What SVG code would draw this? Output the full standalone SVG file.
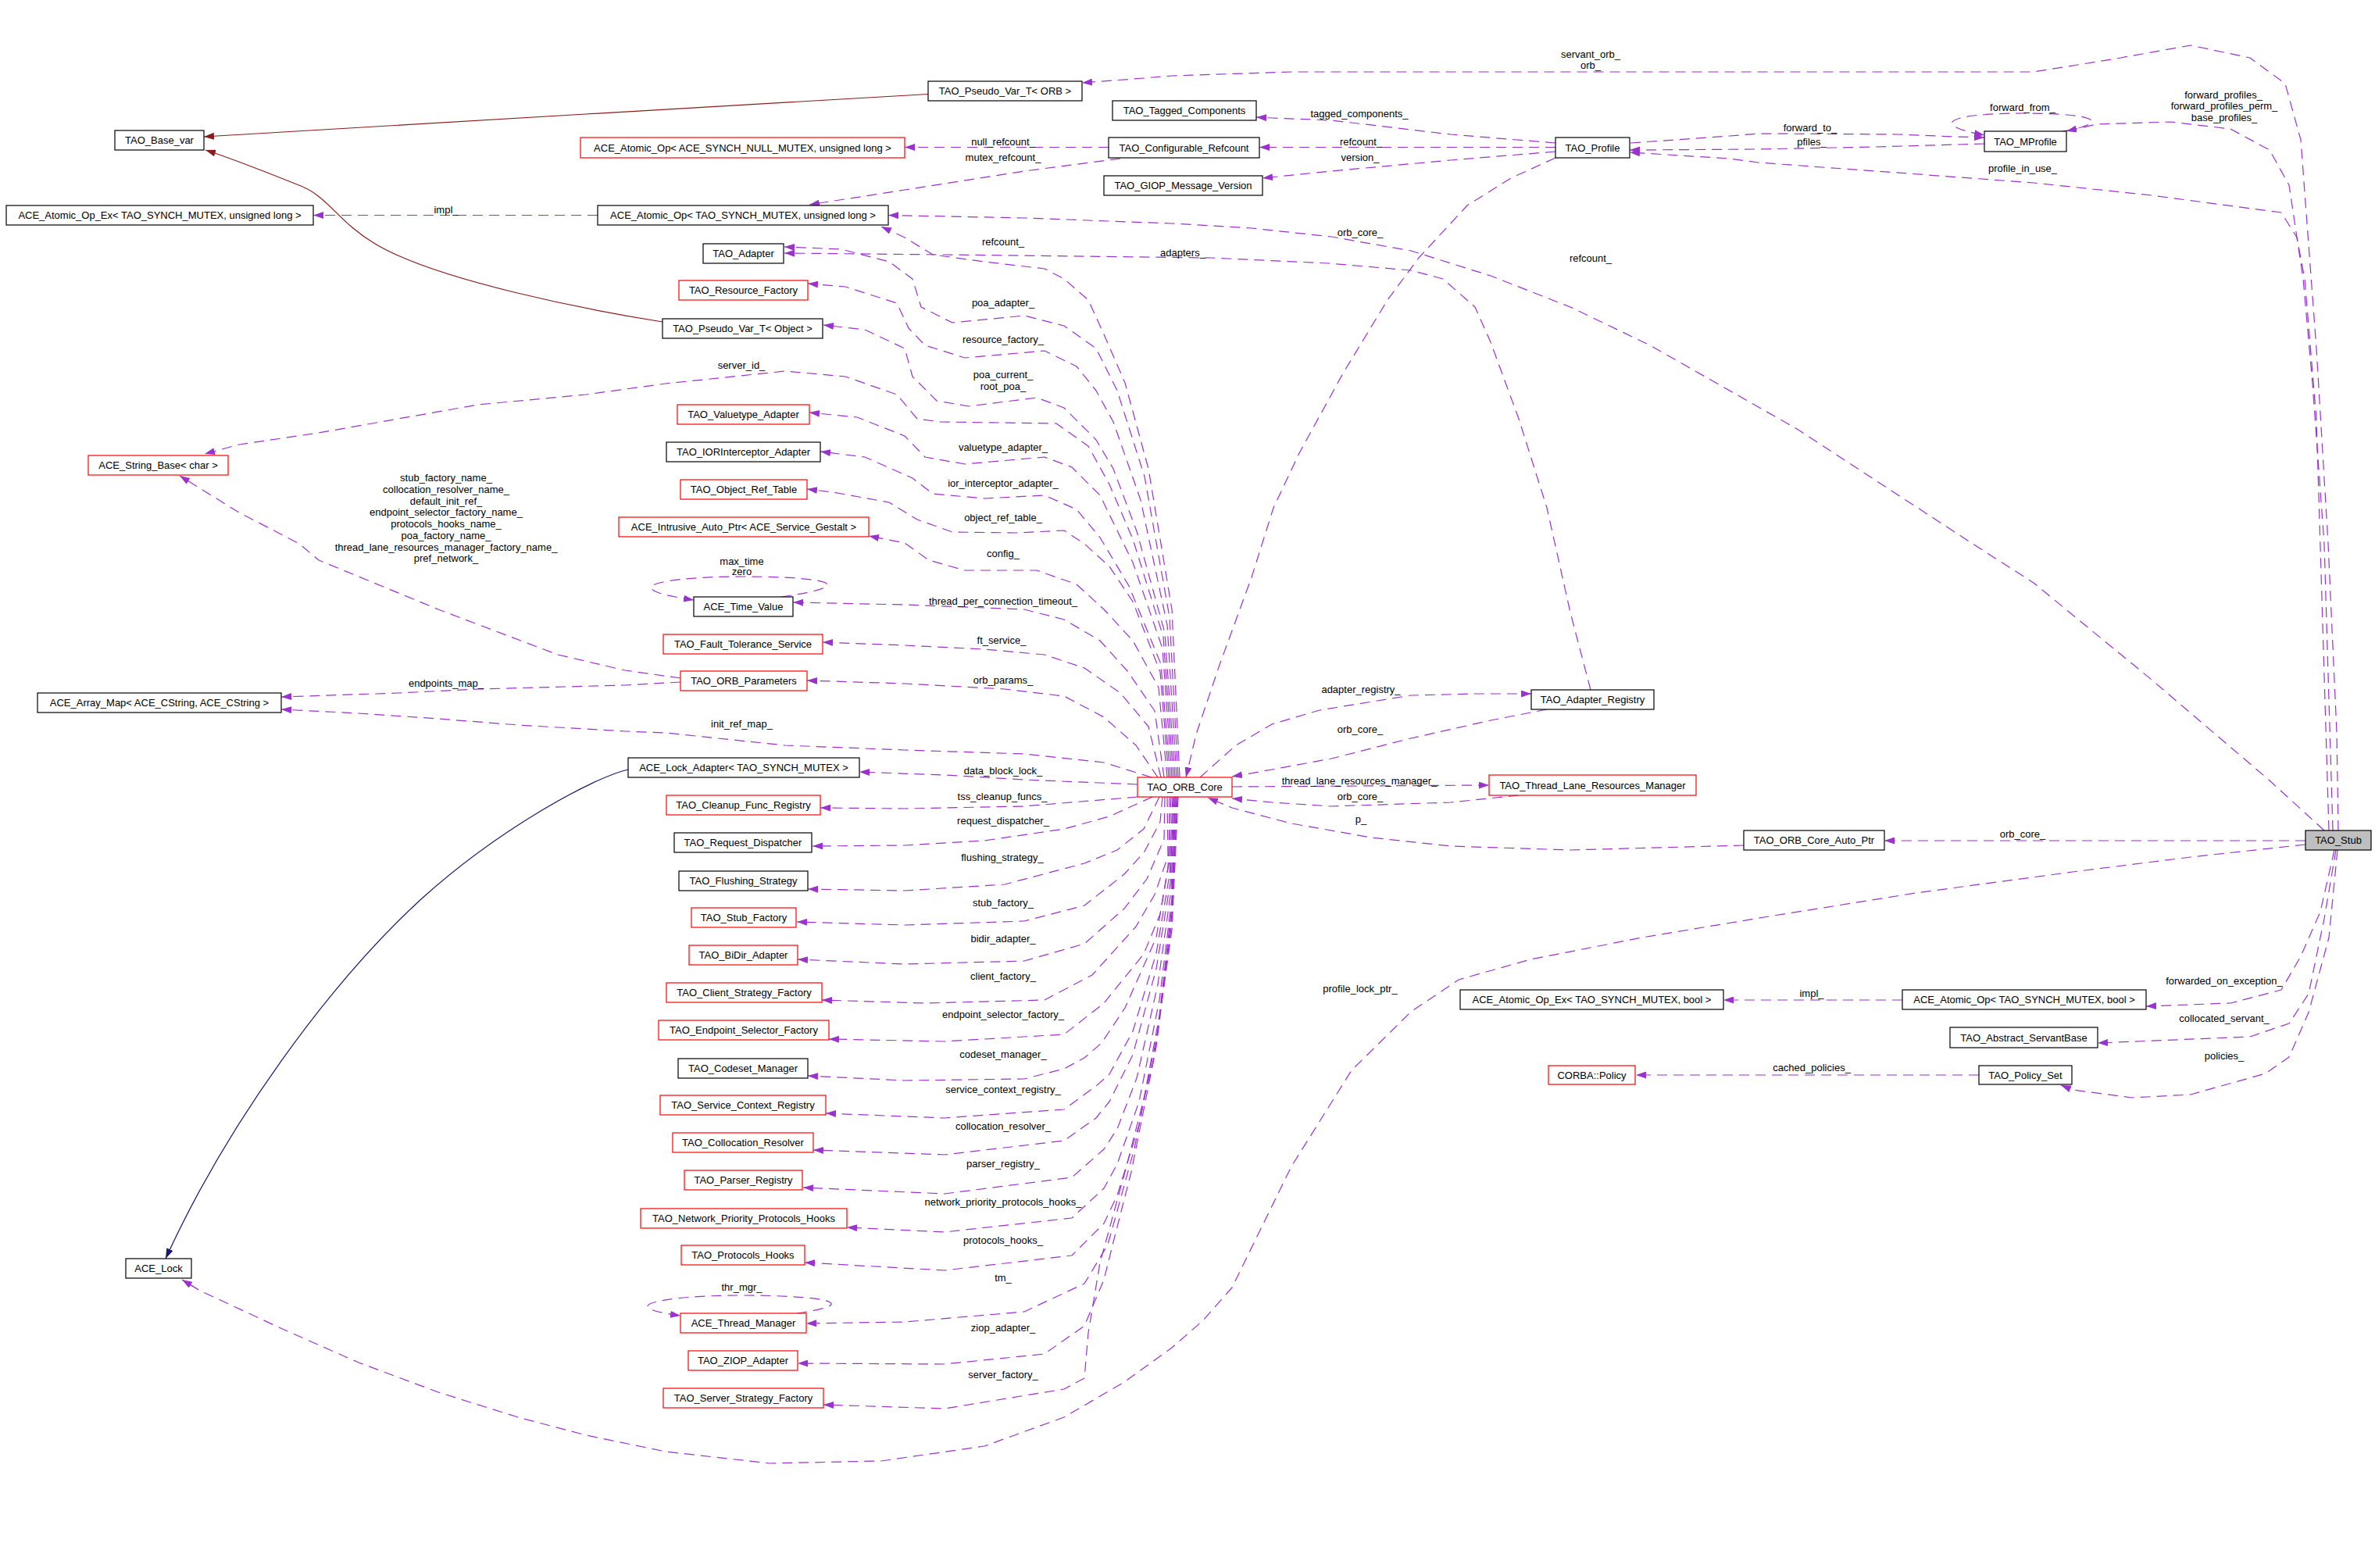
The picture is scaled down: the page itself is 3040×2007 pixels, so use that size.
<svg xmlns="http://www.w3.org/2000/svg" width="3040" height="2007" viewBox="0 0 3040 2007">
<style>
text{font-family:"Liberation Sans",Arial,sans-serif;font-size:13px;fill:#000;text-anchor:middle}
.node rect{fill:#fff;stroke:#000;stroke-width:1.2}
.node rect.red{stroke:#ff0000}
.node rect.cur{fill:#bfbfbf}
.e path{fill:none;stroke:#9a32cd;stroke-width:1.2;stroke-dasharray:13,8;marker-end:url(#ap);stroke-linejoin:round}
.e path.priv{stroke:#8b1a1a;stroke-dasharray:none;marker-end:url(#ar)}
.e path.pub{stroke:#191970;stroke-dasharray:none;marker-end:url(#an)}
</style>
<defs>
<marker id="ap" viewBox="0 0 13 9" refX="13" refY="4.5" markerWidth="13" markerHeight="9" markerUnits="userSpaceOnUse" orient="auto"><path d="M0,0 L13,4.5 L0,9 z" fill="#9a32cd"/></marker>
<marker id="ar" viewBox="0 0 13 9" refX="13" refY="4.5" markerWidth="13" markerHeight="9" markerUnits="userSpaceOnUse" orient="auto"><path d="M0,0 L13,4.5 L0,9 z" fill="#8b1a1a"/></marker>
<marker id="an" viewBox="0 0 13 9" refX="13" refY="4.5" markerWidth="13" markerHeight="9" markerUnits="userSpaceOnUse" orient="auto"><path d="M0,0 L13,4.5 L0,9 z" fill="#191970"/></marker>
</defs>
<rect x="0" y="0" width="3040" height="2007" fill="#fff"/>
<g id="edges">
<g class="e"><path class="priv" d="M1188,120.5 L750,146 L261,175"/></g>
<g class="e"><path class="priv" d="M848,412 C760,398 560,360 480,312 C430,282 420,250 380,236 C340,220 300,204 263,192"/></g>
<g class="e"><path class="pub" d="M804,985 C760,995 640,1060 540,1150 C420,1260 290,1440 212,1611"/></g>
<g class="e"><path d="M765,275.5 L401,275.5"/><text x="571" y="272.5">impl_</text></g>
<g class="e"><path d="M1419,188.5 L1158,188.5"/><text x="1284" y="186">null_refcount_</text></g>
<g class="e"><path d="M1434,203 L1311,219 L1158,243 L1036,262"/><text x="1284" y="206">mutex_refcount_</text></g>
<g class="e"><path d="M1991,183 L1857,172 L1704,154 L1628,151 L1608,150"/><text x="1740" y="150">tagged_components_</text></g>
<g class="e"><path d="M1991,188.5 L1612,188.5"/><text x="1742" y="186">refcount_</text></g>
<g class="e"><path d="M1991,194 L1857,205 L1704,219 L1616,228"/><text x="1741" y="206">version_</text></g>
<g class="e"><path d="M2087,183 L2214,174 L2250,171 L2431,172 L2502,175 L2540,176"/><text x="2317" y="168">forward_to_</text></g>
<g class="e"><path d="M2540,184 L2401,188 L2250,191 L2086,192"/><text x="2319" y="186">pfiles_</text></g>
<g class="e"><path d="M2640,168 C2700,158 2690,145 2590,145 C2490,145 2470,160 2540,173"/><text x="2589" y="142">forward_from_</text></g>
<g class="e"><path d="M2993,1063 L2991,937 L2980,696 L2965,446 L2955,313 L2945,179 L2925,107 L2880,74 L2804,58 L2703,76 L2603,92 L2250,92 L1653,92 L1500,97 L1464,100 L1385,106"/><text x="2036" y="74">servant_orb_</text><text x="2036" y="88">orb_</text></g>
<g class="e"><path d="M2986,1063 L2975,696 L2960,491 L2948,357 L2930,237 L2905,192 L2855,165 L2779,156 L2683,159 L2645,168"/><text x="2846" y="126">forward_profiles_</text><text x="2847" y="140">forward_profiles_perm_</text><text x="2847" y="155">base_profiles_</text></g>
<g class="e"><path d="M2981,1063 L2970,700 L2965,536 L2950,357 L2940,304 L2920,272 L2754,250 L2603,234 L2401,219 L2250,208 L2214,203 L2086,195"/><text x="2589" y="220">profile_in_use_</text></g>
<g class="e"><path d="M2975,1063 L2905,999 L2754,870 L2603,746 L2525,696 L2300,549 L2112,442 L2010,393 L1908,353 L1806,321 L1704,303 L1602,292 L1500,286 L1311,279 L1137,275.5"/><text x="2036" y="335">refcount_</text></g>
<g class="e"><path d="M2951,1076 L2412,1076"/><text x="2589" y="1072">orb_core_</text></g>
<g class="e"><path d="M2951,1081 L2804,1097 L2653,1116 L2452,1143 L2258,1174 L2102,1200 L1959,1228 L1867,1254 L1806,1295 L1730,1370 L1653,1493 L1577,1648 L1540,1690 L1500,1725 L1439,1769 L1362,1814 L1260,1851 L1128,1870 L985,1873 L852,1858 L750,1837 L663,1814 L561,1782 L459,1744 L357,1699 L256,1652 L233,1638"/><text x="1741" y="1270">profile_lock_ptr_</text></g>
<g class="e"><path d="M2988,1088 L2970,1167 L2945,1224 L2920,1267 L2855,1284 L2747,1288"/><text x="2847" y="1260">forwarded_on_exception_</text></g>
<g class="e"><path d="M2990,1088 L2975,1176 L2955,1272 L2930,1310 L2880,1327 L2685,1335"/><text x="2847" y="1308">collocated_servant_</text></g>
<g class="e"><path d="M2992,1088 L2981,1200 L2955,1296 L2930,1353 L2900,1374 L2804,1401 L2729,1405 L2653,1395 L2638,1389"/><text x="2847" y="1356">policies_</text></g>
<g class="e"><path d="M2435,1280 L2206,1280"/><text x="2319" y="1276">impl_</text></g>
<g class="e"><path d="M2533,1376 L2094,1376"/><text x="2319" y="1371">cached_policies_</text></g>
<g class="e"><path d="M1536,995 L1582,954 L1628,927 L1689,909 L1806,890 L1888,888 L1960,888"/><text x="1742" y="887">adapter_registry_</text></g>
<g class="e"><path d="M1980,908 L1908,922 L1806,945 L1704,971 L1628,985 L1577,994"/><text x="1741" y="938">orb_core_</text></g>
<g class="e"><path d="M1577,1007 L1740,1006 L1906,1005"/><text x="1740" y="1004">thread_lane_resources_manager_</text></g>
<g class="e"><path d="M1944,1018 L1857,1027 L1704,1032 L1628,1027 L1577,1022"/><text x="1741" y="1024">orb_core_</text></g>
<g class="e"><path d="M2232,1082 L2010,1088 L1857,1083 L1755,1072 L1653,1054 L1577,1034 L1546,1021"/><text x="1742" y="1053">p_</text></g>
<g class="e"><path d="M1991,202 L1934,228 L1878,263 L1816,330 L1776,384 L1719,478 L1663,580 L1630,650 L1602,739 L1561,851 L1531,940 L1518,995"/><text x="1741" y="302">orb_core_</text></g>
<g class="e"><path d="M2036,883 L2010,784 L1980,650 L1944,536 L1908,438 L1888,393 L1847,357 L1806,346 L1700,337 L1550,330 L1209,326 L1004,324"/><text x="1514" y="328">adapters_</text></g>
<g class="e"><path d="M1510,995 L1500,780 L1470,600 L1440,490 L1413,428 L1393,384 L1362,357 L1337,344 L1260,335 L1194,326 L1158,304 L1128,290"/><text x="1284" y="314">refcount_</text></g>
<g class="e"><path d="M1508,995 L1497,790 L1465,610 L1430,500 L1403,446 L1362,417 L1311,404 L1219,413 L1179,393 L1168,357 L1138,335 L1077,319 L1004,316"/><text x="1284" y="392">poa_adapter_</text></g>
<g class="e"><path d="M1506,995 L1494,800 L1460,640 L1425,540 L1403,500 L1378,469 L1337,449 L1235,458 L1184,442 L1163,420 L1148,388 L1082,367 L1034,363"/><text x="1284" y="438.5">resource_factory_</text></g>
<g class="e"><path d="M1504,995 L1491,810 L1455,680 L1425,600 L1403,563 L1362,522 L1327,509 L1240,520 L1199,513 L1168,482 L1158,446 L1107,422 L1054,416"/><text x="1284" y="483.5">poa_current_</text><text x="1284" y="498.5">root_poa_</text></g>
<g class="e"><path d="M1502,995 L1489,815 L1450,690 L1420,620 L1393,571 L1352,542 L1204,540 L1174,536 L1148,505 L1082,482 L1005,475 L852,491 L750,505 L612,518 L408,554 L306,569 L262,581"/><text x="949" y="472">server_id_</text></g>
<g class="e"><path d="M1500,995 L1488,830 L1450,720 L1408,634 L1372,598 L1337,585 L1235,594 L1184,585 L1158,558 L1097,534 L1036,528"/><text x="1284" y="576.5">valuetype_adapter_</text></g>
<g class="e"><path d="M1498,995 L1486,850 L1445,750 L1408,688 L1378,652 L1337,634 L1260,638 L1194,632 L1168,612 L1107,585 L1050,578"/><text x="1284" y="622.5">ior_interceptor_adapter_</text></g>
<g class="e"><path d="M1496,995 L1485,860 L1450,770 L1420,725 L1388,696 L1362,679 L1301,682 L1219,681 L1174,665 L1138,643 L1066,630 L1033,626"/><text x="1284" y="667">object_ref_table_</text></g>
<g class="e"><path d="M1494,995 L1483,880 L1450,820 L1413,780 L1378,748 L1327,730 L1235,730 L1189,717 L1158,695 L1112,686"/><text x="1284" y="712.5">config_</text></g>
<g class="e"><path d="M871,868 L800,858 L714,838 L561,780 L408,717 L383,696 L306,656 L230,609"/><text x="571" y="616">stub_factory_name_</text><text x="571" y="631">collocation_resolver_name_</text><text x="571" y="645.5">default_init_ref_</text><text x="571" y="660">endpoint_selector_factory_name_</text><text x="571" y="675">protocols_hooks_name_</text><text x="571" y="690">poa_factory_name_</text><text x="571" y="704.5">thread_lane_resources_manager_factory_name_</text><text x="571" y="719">pref_network_</text></g>
<g class="e"><path d="M1000,764 C1110,748 1050,738 950,738 C850,738 780,752 888,768"/><text x="949.5" y="722.5">max_time</text><text x="949.5" y="736">zero</text></g>
<g class="e"><path d="M1490,995 L1478,910 L1444,860 L1408,820 L1362,793 L1311,780 L1158,774 L1015,771"/><text x="1284" y="774">thread_per_connection_timeout_</text></g>
<g class="e"><path d="M1486,995 L1470,930 L1434,887 L1388,855 L1337,838 L1260,831 L1158,826 L1053,822"/><text x="1282" y="824">ft_service_</text></g>
<g class="e"><path d="M1482,995 L1454,954 L1413,918 L1362,891 L1286,882 L1158,875 L1033,871"/><text x="1284" y="875">orb_params_</text></g>
<g class="e"><path d="M871,873 L800,877 L612,882 L510,887 L360,892"/><text x="571" y="879">endpoints_map_</text></g>
<g class="e"><path d="M1474,995 L1413,976 L1311,965 L1158,960 L1005,954 L852,938 L800,936 L663,928 L561,920 L459,913 L360,908"/><text x="949.5" y="931">init_ref_map_</text></g>
<g class="e"><path d="M1456,1004 L1311,998 L1209,992 L1100,988"/><text x="1284" y="991">data_block_lock_</text></g>
<g class="e"><path d="M1456,1020 L1311,1032 L1158,1035 L1050,1034"/><text x="1283" y="1024">tss_cleanup_funcs_</text></g>
<g class="e"><path d="M1475,1020 L1420,1045 L1362,1061 L1260,1076 L1158,1082 L1040,1083"/><text x="1284" y="1055">request_dispatcher_</text></g>
<g class="e"><path d="M1484,1020 L1464,1061 L1430,1088 L1388,1105 L1286,1132 L1158,1140 L1034,1138"/><text x="1283" y="1102">flushing_strategy_</text></g>
<g class="e"><path d="M1488,1020 L1485,1052 L1465,1090 L1439,1119 L1388,1159 L1311,1179 L1158,1184 L1020,1180"/><text x="1284" y="1160">stub_factory_</text></g>
<g class="e"><path d="M1491,1020 L1490,1074 L1468,1125 L1439,1163 L1388,1208 L1311,1230 L1158,1234 L1021,1228"/><text x="1284" y="1206">bidir_adapter_</text></g>
<g class="e"><path d="M1494,1020 L1495,1096 L1478,1145 L1454,1186 L1398,1248 L1337,1280 L1184,1284 L1052,1280"/><text x="1284" y="1254">client_factory_</text></g>
<g class="e"><path d="M1497,1020 L1497,1100 L1485,1170 L1464,1221 L1413,1284 L1362,1324 L1209,1333 L1061,1330"/><text x="1284" y="1303">endpoint_selector_factory_</text></g>
<g class="e"><path d="M1499,1020 L1495,1110 L1480,1200 L1440,1290 L1410,1335 L1388,1354 L1362,1368 L1311,1381 L1158,1383 L1034,1377"/><text x="1284" y="1354">codeset_manager_</text></g>
<g class="e"><path d="M1501,1020 L1497,1120 L1480,1220 L1450,1320 L1420,1375 L1403,1390 L1362,1420 L1209,1431 L1057,1425"/><text x="1284" y="1399">service_context_registry_</text></g>
<g class="e"><path d="M1502,1020 L1498,1130 L1480,1240 L1450,1350 L1420,1410 L1403,1431 L1362,1460 L1209,1478 L1041,1472"/><text x="1284" y="1446">collocation_resolver_</text></g>
<g class="e"><path d="M1503,1020 L1499,1140 L1482,1260 L1455,1380 L1430,1445 L1413,1471 L1372,1507 L1209,1528 L1028,1520"/><text x="1284" y="1494">parser_registry_</text></g>
<g class="e"><path d="M1504,1020 L1500,1150 L1484,1280 L1458,1410 L1430,1490 L1413,1521 L1372,1559 L1209,1577 L1084,1571"/><text x="1284" y="1543">network_priority_protocols_hooks_</text></g>
<g class="e"><path d="M1505,1020 L1500,1160 L1484,1300 L1458,1440 L1430,1530 L1413,1566 L1372,1607 L1209,1626 L1030,1616"/><text x="1284" y="1592">protocols_hooks_</text></g>
<g class="e"><path d="M1506,1020 L1500,1170 L1482,1320 L1452,1470 L1430,1550 L1418,1593 L1388,1643 L1311,1679 L1158,1692 L1032,1694"/><text x="1284" y="1640">tm_</text></g>
<g class="e"><path d="M1020,1681 C1110,1668 1050,1658 950,1658 C850,1658 780,1672 871,1684"/><text x="949.5" y="1652">thr_mgr_</text></g>
<g class="e"><path d="M1507,1020 L1500,1180 L1480,1340 L1448,1500 L1425,1590 L1413,1638 L1388,1697 L1337,1733 L1209,1746 L1021,1745"/><text x="1284" y="1704">ziop_adapter_</text></g>
<g class="e"><path d="M1508,1020 L1500,1190 L1476,1360 L1440,1500 L1418,1580 L1408,1616 L1393,1706 L1388,1764 L1362,1778 L1209,1803 L1054,1798"/><text x="1284" y="1763.5">server_factory_</text></g>
</g>
<g id="nodes">
<g class="node" id="n_TAO_Stub"><rect class="cur" x="2951" y="1063" width="84" height="25"/><text x="2993" y="1080">TAO_Stub</text></g>
<g class="node" id="n_PseudoVar_ORB"><rect x="1188" y="104" width="197" height="25"/><text x="1286.5" y="121">TAO_Pseudo_Var_T&lt; ORB &gt;</text></g>
<g class="node" id="n_TAO_Base_var"><rect x="147" y="167" width="114" height="25"/><text x="204" y="184">TAO_Base_var</text></g>
<g class="node" id="n_PseudoVar_Object"><rect x="848" y="408" width="205" height="25"/><text x="950.5" y="425">TAO_Pseudo_Var_T&lt; Object &gt;</text></g>
<g class="node" id="n_Tagged_Components"><rect x="1424" y="129" width="184" height="25"/><text x="1516" y="146">TAO_Tagged_Components</text></g>
<g class="node" id="n_AtomicOp_Null"><rect class="red" x="743" y="176" width="415" height="26"/><text x="950.5" y="193.5">ACE_Atomic_Op&lt; ACE_SYNCH_NULL_MUTEX, unsigned long &gt;</text></g>
<g class="node" id="n_Configurable_Refcount"><rect x="1419" y="176" width="193" height="26"/><text x="1515.5" y="193.5">TAO_Configurable_Refcount</text></g>
<g class="node" id="n_GIOP_Message_Version"><rect x="1413" y="225" width="203" height="25"/><text x="1514.5" y="242">TAO_GIOP_Message_Version</text></g>
<g class="node" id="n_AtomicOp_ul"><rect x="765" y="263" width="372" height="25"/><text x="951" y="280">ACE_Atomic_Op&lt; TAO_SYNCH_MUTEX, unsigned long &gt;</text></g>
<g class="node" id="n_AtomicOpEx_ul"><rect x="8" y="263" width="393" height="25"/><text x="204.5" y="280">ACE_Atomic_Op_Ex&lt; TAO_SYNCH_MUTEX, unsigned long &gt;</text></g>
<g class="node" id="n_TAO_Profile"><rect x="1991" y="176" width="95" height="26"/><text x="2038.5" y="193.5">TAO_Profile</text></g>
<g class="node" id="n_TAO_MProfile"><rect x="2540" y="168" width="105" height="26"/><text x="2592.5" y="185.5">TAO_MProfile</text></g>
<g class="node" id="n_TAO_Adapter"><rect x="900" y="312" width="103" height="25"/><text x="951.5" y="329">TAO_Adapter</text></g>
<g class="node" id="n_Resource_Factory"><rect class="red" x="869" y="359" width="165" height="25"/><text x="951.5" y="376">TAO_Resource_Factory</text></g>
<g class="node" id="n_String_Base"><rect class="red" x="113" y="583" width="179" height="25"/><text x="202.5" y="600">ACE_String_Base&lt; char &gt;</text></g>
<g class="node" id="n_Valuetype_Adapter"><rect class="red" x="867" y="518" width="169" height="25"/><text x="951.5" y="535">TAO_Valuetype_Adapter</text></g>
<g class="node" id="n_IORInterceptor_Adapter"><rect x="853" y="566" width="197" height="25"/><text x="951.5" y="583">TAO_IORInterceptor_Adapter</text></g>
<g class="node" id="n_Object_Ref_Table"><rect class="red" x="871" y="614" width="162" height="25"/><text x="952" y="631">TAO_Object_Ref_Table</text></g>
<g class="node" id="n_Intrusive_Auto_Ptr"><rect class="red" x="792" y="662" width="320" height="25"/><text x="952" y="679">ACE_Intrusive_Auto_Ptr&lt; ACE_Service_Gestalt &gt;</text></g>
<g class="node" id="n_Time_Value"><rect x="888" y="764" width="127" height="25"/><text x="951.5" y="781">ACE_Time_Value</text></g>
<g class="node" id="n_Fault_Tolerance_Service"><rect class="red" x="849" y="812" width="204" height="25"/><text x="951" y="829">TAO_Fault_Tolerance_Service</text></g>
<g class="node" id="n_ORB_Parameters"><rect class="red" x="871" y="859" width="162" height="25"/><text x="952" y="876">TAO_ORB_Parameters</text></g>
<g class="node" id="n_Array_Map"><rect x="48" y="887" width="312" height="25"/><text x="204" y="904">ACE_Array_Map&lt; ACE_CString, ACE_CString &gt;</text></g>
<g class="node" id="n_Lock_Adapter"><rect x="804" y="970" width="296" height="25"/><text x="952" y="987">ACE_Lock_Adapter&lt; TAO_SYNCH_MUTEX &gt;</text></g>
<g class="node" id="n_ORB_Core"><rect class="red" x="1456" y="995" width="121" height="25"/><text x="1516.5" y="1012">TAO_ORB_Core</text></g>
<g class="node" id="n_Cleanup_Func_Registry"><rect class="red" x="853" y="1018" width="197" height="25"/><text x="951.5" y="1035">TAO_Cleanup_Func_Registry</text></g>
<g class="node" id="n_Request_Dispatcher"><rect x="863" y="1066" width="176" height="25"/><text x="951" y="1083">TAO_Request_Dispatcher</text></g>
<g class="node" id="n_Flushing_Strategy"><rect x="869" y="1115" width="165" height="25"/><text x="951.5" y="1132">TAO_Flushing_Strategy</text></g>
<g class="node" id="n_Stub_Factory"><rect class="red" x="885" y="1162" width="134" height="25"/><text x="952" y="1179">TAO_Stub_Factory</text></g>
<g class="node" id="n_BiDir_Adapter"><rect class="red" x="882" y="1210" width="139" height="25"/><text x="951.5" y="1227">TAO_BiDir_Adapter</text></g>
<g class="node" id="n_Client_Strategy_Factory"><rect class="red" x="853" y="1258" width="199" height="25"/><text x="952.5" y="1275">TAO_Client_Strategy_Factory</text></g>
<g class="node" id="n_Endpoint_Selector_Factory"><rect class="red" x="843" y="1306" width="218" height="25"/><text x="952" y="1323">TAO_Endpoint_Selector_Factory</text></g>
<g class="node" id="n_Codeset_Manager"><rect x="868" y="1355" width="166" height="25"/><text x="951" y="1372">TAO_Codeset_Manager</text></g>
<g class="node" id="n_Service_Context_Registry"><rect class="red" x="845" y="1402" width="212" height="25"/><text x="951" y="1419">TAO_Service_Context_Registry</text></g>
<g class="node" id="n_Collocation_Resolver"><rect class="red" x="861" y="1450" width="180" height="25"/><text x="951" y="1467">TAO_Collocation_Resolver</text></g>
<g class="node" id="n_Parser_Registry"><rect class="red" x="876" y="1498" width="151" height="25"/><text x="951.5" y="1515">TAO_Parser_Registry</text></g>
<g class="node" id="n_Network_Priority_Protocols_Hooks"><rect class="red" x="820" y="1547" width="264" height="25"/><text x="952" y="1564">TAO_Network_Priority_Protocols_Hooks</text></g>
<g class="node" id="n_Protocols_Hooks"><rect class="red" x="872" y="1594" width="158" height="25"/><text x="951" y="1611">TAO_Protocols_Hooks</text></g>
<g class="node" id="n_Thread_Manager"><rect class="red" x="871" y="1681" width="161" height="25"/><text x="951.5" y="1698">ACE_Thread_Manager</text></g>
<g class="node" id="n_ZIOP_Adapter"><rect class="red" x="881" y="1729" width="140" height="25"/><text x="951" y="1746">TAO_ZIOP_Adapter</text></g>
<g class="node" id="n_Server_Strategy_Factory"><rect class="red" x="849" y="1777" width="205" height="25"/><text x="951.5" y="1794">TAO_Server_Strategy_Factory</text></g>
<g class="node" id="n_ACE_Lock"><rect x="161" y="1611" width="84" height="25"/><text x="203" y="1628">ACE_Lock</text></g>
<g class="node" id="n_Adapter_Registry"><rect x="1960" y="883" width="157" height="25"/><text x="2038.5" y="900">TAO_Adapter_Registry</text></g>
<g class="node" id="n_Thread_Lane_Resources_Manager"><rect class="red" x="1906" y="992" width="265" height="26"/><text x="2038.5" y="1009.5">TAO_Thread_Lane_Resources_Manager</text></g>
<g class="node" id="n_ORB_Core_Auto_Ptr"><rect x="2232" y="1063" width="180" height="25"/><text x="2322" y="1080">TAO_ORB_Core_Auto_Ptr</text></g>
<g class="node" id="n_AtomicOpEx_bool"><rect x="1869" y="1267" width="337" height="25"/><text x="2037.5" y="1284">ACE_Atomic_Op_Ex&lt; TAO_SYNCH_MUTEX, bool &gt;</text></g>
<g class="node" id="n_AtomicOp_bool"><rect x="2435" y="1267" width="312" height="25"/><text x="2591" y="1284">ACE_Atomic_Op&lt; TAO_SYNCH_MUTEX, bool &gt;</text></g>
<g class="node" id="n_Abstract_ServantBase"><rect x="2496" y="1315" width="189" height="26"/><text x="2590.5" y="1332.5">TAO_Abstract_ServantBase</text></g>
<g class="node" id="n_Policy_Set"><rect x="2533" y="1364" width="119" height="24"/><text x="2592.5" y="1380.5">TAO_Policy_Set</text></g>
<g class="node" id="n_CORBA_Policy"><rect class="red" x="1982" y="1364" width="111" height="24"/><text x="2037.5" y="1380.5">CORBA::Policy</text></g>
</g>
</svg>
